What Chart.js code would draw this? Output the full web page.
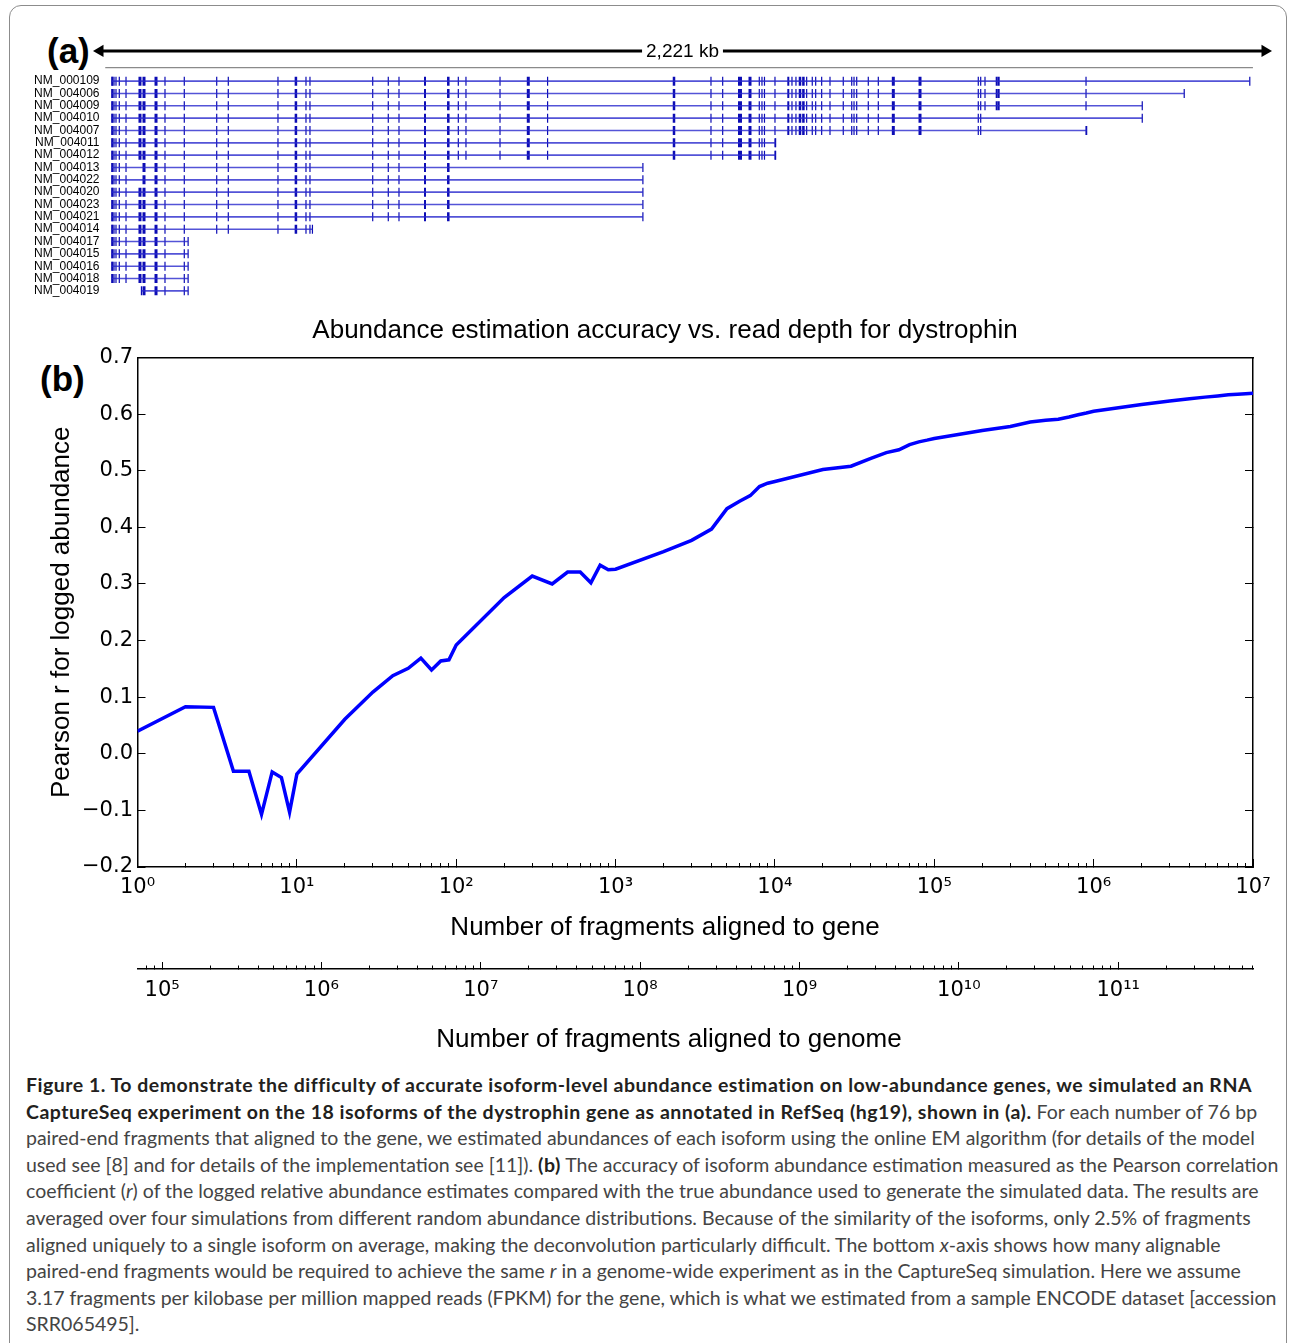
<!DOCTYPE html>
<html>
<head>
<meta charset="utf-8">
<title>Dystrophin isoforms and abundance estimation accuracy</title>
<script src="https://cdn.jsdelivr.net/npm/chart.js@4.4.1/dist/chart.umd.min.js"></script>
<style>
  html, body { margin: 0; padding: 0; overflow: hidden; background: #fff; }
  body { width: 1290px; height: 1343px; position: relative; }
  .frame { position: absolute; left: 9px; top: 5px; width: 1276px; height: 1400px;
           border: 1.3px solid #8c8c8c; border-radius: 12px; }
  .panel { position: absolute; font-family: "Liberation Sans", Arial, sans-serif; font-weight: bold; font-size: 35px; color: #000; line-height: 1; }
  canvas { position: absolute; left: 0; }
  #caption { position: absolute; left: 26px; top: 1072px; font-family: Lato, "Open Sans", sans-serif;
             font-size: 19.5px; line-height: 26.6px; color: #444; }
  #caption .ln { white-space: nowrap; }
  #caption b { color: #231f20; letter-spacing: 0.5px; }
</style>
</head>
<body>
<div class="frame"></div>
<div class="panel" style="left:47px; top:33px;">(a)</div>
<canvas id="isoChart" width="1290" height="275" style="top:30px;"></canvas>
<div class="panel" style="left:40px; top:361px;">(b)</div>
<canvas id="accChart" width="1330" height="660" style="top:300px;"></canvas>
<canvas id="genomeAxis" width="1338" height="110" style="top:950px;"></canvas>
<div id="caption">
  <div class="ln"><b>Figure 1. To demonstrate the difficulty of accurate isoform-level abundance estimation on low-abundance genes, we simulated an RNA</b></div>
  <div class="ln"><b>CaptureSeq experiment on the 18 isoforms of the dystrophin gene as annotated in RefSeq (hg19), shown in (a).</b> For each number of 76 bp</div>
  <div class="ln">paired-end fragments that aligned to the gene, we estimated abundances of each isoform using the online EM algorithm (for details of the model</div>
  <div class="ln">used see [8] and for details of the implementation see [11]). <b>(b)</b> The accuracy of isoform abundance estimation measured as the Pearson correlation</div>
  <div class="ln">coefficient (<i>r</i>) of the logged relative abundance estimates compared with the true abundance used to generate the simulated data. The results are</div>
  <div class="ln">averaged over four simulations from different random abundance distributions. Because of the similarity of the isoforms, only 2.5% of fragments</div>
  <div class="ln">aligned uniquely to a single isoform on average, making the deconvolution particularly difficult. The bottom <i>x</i>-axis shows how many alignable</div>
  <div class="ln">paired-end fragments would be required to achieve the same <i>r</i> in a genome-wide experiment as in the CaptureSeq simulation. Here we assume</div>
  <div class="ln">3.17 fragments per kilobase per million mapped reads (FPKM) for the gene, which is what we estimated from a sample ENCODE dataset [accession</div>
  <div class="ln">SRR065495].</div>
</div>
<script>
/* Panel (a): RefSeq isoforms of dystrophin, panel (b): accuracy vs read depth */

// ---- panel (a) data (positions in kb from the left end of the 2,221 kb window)
const scaleBarKb = 2221;
const rulerKb = [10, 2198];

const isoformNames = [
    'NM_000109', 'NM_004006', 'NM_004009', 'NM_004010', 'NM_004007', 'NM_004011',
    'NM_004012', 'NM_004013', 'NM_004022', 'NM_004020', 'NM_004023', 'NM_004021',
    'NM_004014', 'NM_004017', 'NM_004015', 'NM_004016', 'NM_004018', 'NM_004019'
];
const isoformStartKb = [23, 23, 23, 23, 23, 23, 23, 23, 23, 23, 23, 23, 23, 23, 23, 23, 23, 79];
const isoformEndKb = [2192, 2067, 1987, 1987, 1881, 1288, 1288, 1035, 1035, 1035, 1035, 1035,
    405, 168, 168, 168, 168, 168];
// exon ranges that a given isoform does not contain
const isoformMissingKb = [
    [], [], [], [[1685, 1890]], [[1685, 1720]], [], [],
    [[70, 79], [670, 1030]], [[70, 79], [670, 1030]],
    [[670, 1030]], [[670, 1030]], [[670, 1030]],
    [], [], [], [], [], []
];
const exonKb = [
    23.5, 26.7, 30.5, 36.8, 49.6, 76.2, 83.9, 106.8, 123.9, 160.7, 222.5, 244.6, 339.3,
    373.5, 392.7, 400.3, 519.9, 549.6, 570.0, 619.6, 664.0, 683.1, 697.7, 762.6, 816.5,
    853.3, 1094.3, 1164.8, 1187.1, 1220.1, 1239.2, 1256.9, 1262.0, 1266.8, 1286.8, 1312.2,
    1319.2, 1326.8, 1334.5, 1341.0, 1347.2, 1357.9, 1364.4, 1375.8, 1391.7, 1417.0, 1433.1,
    1437.5, 1442.6, 1464.7, 1483.8, 1512.4, 1563.3, 1674.4, 1679.0, 1687.2, 1709.5, 1713.3,
    1879.8
];
const exonSpanKb = [
    3.8, 1.9, 1.9, 1.9, 1.9, 5.7, 5.7, 5.7, 1.9, 1.9, 1.9, 1.9, 1.9,
    4.8, 1.9, 1.9, 1.9, 1.9, 1.9, 3.8, 4.8, 1.9, 1.9, 1.9, 5.7,
    1.9, 4.8, 1.9, 1.9, 7.6, 5.7, 1.9, 1.9, 1.9, 1.9, 3.8,
    1.9, 1.9, 4.8, 4.8, 1.9, 1.9, 1.9, 1.9, 1.9, 1.9, 1.9,
    1.9, 1.9, 1.9, 1.9, 5.7, 5.7, 1.9, 1.9, 1.9, 3.8, 3.8,
    1.9
];

// ---- panel (b) data
const geneFragments = [
    1, 2, 3, 4, 5, 6, 7, 8, 9, 10,
    20, 30, 40, 50, 60, 70, 80, 90, 100,
    200, 300, 400, 500, 600, 700, 800, 900, 1000,
    2000, 3000, 4000, 5000, 6000, 7000, 8000, 9000, 10000,
    2e4, 3e4, 4e4, 5e4, 6e4, 7e4, 8e4, 9e4, 1e5,
    2e5, 3e5, 4e5, 5e5, 6e5, 7e5, 8e5, 9e5, 1e6,
    2e6, 3e6, 4e6, 5e6, 6e6, 7e6, 8e6, 9e6, 1e7
];
const pearsonR = [
    0.040, 0.083, 0.082, -0.031, -0.031, -0.107, -0.032, -0.042, -0.103, -0.036,
    0.061, 0.109, 0.138, 0.151, 0.169, 0.148, 0.164, 0.166, 0.192,
    0.276, 0.314, 0.300, 0.321, 0.321, 0.302, 0.333, 0.325, 0.326,
    0.357, 0.377, 0.397, 0.433, 0.446, 0.456, 0.472, 0.478, 0.481,
    0.502, 0.508, 0.522, 0.532, 0.537, 0.546, 0.551, 0.554, 0.557,
    0.571, 0.578, 0.586, 0.589, 0.591, 0.595, 0.599, 0.602, 0.605,
    0.617, 0.623, 0.627, 0.630, 0.632, 0.634, 0.635, 0.636, 0.637
];
const geneAxisRange = [1, 1e7];
const yTicks = [-0.2, -0.1, 0.0, 0.1, 0.2, 0.3, 0.4, 0.5, 0.6, 0.7];
// genome-wide fragments needed per fragment aligned to the gene
const genomePerGeneFragment = 70100;

Chart.defaults.font.family = '"DejaVu Sans", sans-serif';
Chart.defaults.color = '#000';

const HELV = '"Liberation Sans", Arial, sans-serif';
const SUP = {'0': '⁰', '1': '¹', '2': '²', '3': '³', '4': '⁴', '5': '⁵', '6': '⁶', '7': '⁷', '8': '⁸', '9': '⁹'};
const CLEAR = 'rgba(0,0,0,0)';

function isDecade(v) {
    const e = Math.log10(v);
    return Math.abs(e - Math.round(e)) < 1e-9;
}
function isWholeMantissa(v) {
    const m = v / Math.pow(10, Math.floor(Math.log10(v) + 1e-9));
    return Math.abs(m - Math.round(m)) < 1e-6;
}
function decadeLabel(v) {
    if (!isDecade(v)) return '';
    return '10' + String(Math.round(Math.log10(v))).split('').map(d => SUP[d]).join('');
}
function rLabel(v) {
    return (v < -1e-9 ? '\u2212' : '') + Math.abs(v).toFixed(1);
}

// ---------------- panel (a)
const scaleBarRow = -2.45;
const rulerRow = -1.1;

const exonPoints = [];
isoformNames.forEach((name, row) => {
    const s = isoformStartKb[row], e = isoformEndKb[row];
    const missing = isoformMissingKb[row];
    exonPoints.push({x: s, y: row, span: 1.9});
    exonKb.forEach((kb, j) => {
        if (kb <= s || kb >= e) return;
        if (missing.some(r => kb >= r[0] && kb <= r[1])) return;
        exonPoints.push({x: kb, y: row, span: exonSpanKb[j]});
    });
    exonPoints.push({x: e, y: row, span: 1.9});
});

const intronSets = isoformNames.map((name, row) => ({
    label: name,
    data: [{x: isoformStartKb[row], y: row}, {x: isoformEndKb[row], y: row}],
    showLine: true,
    borderColor: 'rgba(40,40,205,0.8)',
    borderWidth: 1.6,
    pointRadius: 0
}));

const scaleBarLabel = {
    id: 'scaleBarLabel',
    afterDatasetsDraw(chart) {
        const {ctx, scales: {x, y}} = chart;
        const text = scaleBarKb.toLocaleString('en-US') + ' kb';
        const cx = x.getPixelForValue(scaleBarKb / 2);
        const cy = y.getPixelForValue(scaleBarRow);
        ctx.save();
        ctx.font = '19px ' + HELV;
        const w = ctx.measureText(text).width;
        ctx.fillStyle = '#fff';
        ctx.fillRect(cx - w / 2 - 4, cy - 10, w + 8, 20);
        ctx.fillStyle = '#000';
        ctx.textAlign = 'center';
        ctx.textBaseline = 'middle';
        ctx.fillText(text, cx, cy + 1);
        ctx.restore();
    }
};

const isoChart = new Chart(document.getElementById('isoChart'), {
    type: 'scatter',
    data: {
        datasets: [
            {
                label: 'window',
                data: [{x: 0, y: scaleBarRow}, {x: scaleBarKb, y: scaleBarRow}],
                showLine: true,
                borderColor: '#000',
                borderWidth: 3,
                pointStyle: 'triangle',
                pointRadius: 7,
                pointRotation: [-90, 90],
                pointBackgroundColor: '#000',
                pointBorderWidth: 0,
                clip: false
            },
            {
                label: 'ruler',
                data: [{x: rulerKb[0], y: rulerRow}, {x: rulerKb[1], y: rulerRow}],
                showLine: true,
                borderColor: '#8a8a8a',
                borderWidth: 1.3,
                pointRadius: 0
            },
            ...intronSets,
            {
                label: 'exons',
                data: exonPoints,
                pointStyle: 'line',
                pointRotation: 90,
                pointRadius: 4.5,
                pointBorderColor: '#0c0cb4',
                pointBackgroundColor: '#0c0cb4',
                pointBorderWidth: (c) => {
                    const x = c.chart.scales.x;
                    const w = x.getPixelForValue(c.raw.span) - x.getPixelForValue(0);
                    return Math.max(1.2, w);
                }
            }
        ]
    },
    options: {
        responsive: false,
        animation: false,
        events: [],
        layout: {autoPadding: false, padding: {left: 0, right: 25, top: 0, bottom: 0}},
        plugins: {legend: {display: false}, tooltip: {enabled: false}},
        scales: {
            x: {type: 'linear', display: false, min: 0, max: scaleBarKb},
            y: {
                type: 'linear',
                reverse: true,
                min: -4.1,
                max: 18.1,
                afterFit: (s) => { s.width = 100; },
                afterBuildTicks: (s) => { s.ticks = isoformNames.map((n, i) => ({value: i})); },
                border: {display: false},
                grid: {display: false, drawTicks: false},
                ticks: {
                    autoSkip: false,
                    padding: 0.5,
                    font: {family: HELV, size: 12, lineHeight: 0.01},
                    color: '#000',
                    callback: (v) => isoformNames[v] || ''
                }
            }
        }
    },
    plugins: [scaleBarLabel]
});

// ---------------- panel (b)
const titleFont = {family: HELV, size: 26, weight: 'normal', lineHeight: 1.2};

const accChart = new Chart(document.getElementById('accChart'), {
    type: 'scatter',
    data: {
        datasets: [{
            label: 'Pearson r',
            data: geneFragments.map((n, i) => ({x: n, y: pearsonR[i]})),
            showLine: true,
            borderColor: '#0000ff',
            borderWidth: 3.5,
            pointRadius: 0,
            tension: 0,
            xAxisID: 'x',
            yAxisID: 'y'
        }]
    },
    options: {
        responsive: false,
        animation: false,
        events: [],
        layout: {autoPadding: false, padding: 0},
        plugins: {
            legend: {display: false},
            tooltip: {enabled: false},
            title: {
                display: true,
                text: 'Abundance estimation accuracy vs. read depth for dystrophin',
                color: '#000',
                font: titleFont,
                padding: {top: 14.8, bottom: 11.5}
            },
            subtitle: {
                display: true,
                position: 'bottom',
                text: 'Number of fragments aligned to gene',
                color: '#000',
                font: titleFont,
                padding: {top: 5.4, bottom: 16.4}
            }
        },
        scales: {
            x: {
                type: 'logarithmic',
                position: 'bottom',
                min: geneAxisRange[0],
                max: geneAxisRange[1],
                afterFit: (s) => { s.height = 40; },
                border: {display: true, color: '#000', width: 1.5},
                grid: {
                    drawOnChartArea: false,
                    tickLength: -4,
                    tickWidth: 1,
                    tickColor: (c) => isWholeMantissa(c.tick.value) ? '#000' : CLEAR
                },
                ticks: {
                    autoSkip: false,
                    maxRotation: 0,
                    minRotation: 0,
                    padding: 12.4,
                    font: {size: 21},
                    callback: (v) => decadeLabel(v)
                }
            },
            xMajor: {
                type: 'logarithmic',
                position: 'bottom',
                weight: -1,
                min: geneAxisRange[0],
                max: geneAxisRange[1],
                afterFit: (s) => { s.height = 0; },
                border: {display: false},
                grid: {
                    drawOnChartArea: false,
                    tickLength: -8,
                    tickWidth: 1,
                    tickColor: (c) => isDecade(c.tick.value) ? '#000' : CLEAR
                },
                ticks: {display: false, autoSkip: false}
            },
            xTop: {
                type: 'logarithmic',
                position: 'top',
                min: geneAxisRange[0],
                max: geneAxisRange[1],
                afterFit: (s) => { s.height = 0; },
                border: {display: true, color: '#000', width: 1.5},
                grid: {drawOnChartArea: false, drawTicks: false},
                ticks: {display: false}
            },
            y: {
                type: 'linear',
                position: 'left',
                min: yTicks[0],
                max: yTicks[yTicks.length - 1],
                afterFit: (s) => { s.width = 137.5; },
                afterBuildTicks: (s) => { s.ticks = yTicks.map(v => ({value: v})); },
                border: {display: true, color: '#000', width: 1.5},
                grid: {drawOnChartArea: false, tickLength: -8, tickColor: '#000', tickWidth: 1},
                ticks: {padding: 12.5, font: {size: 21}, callback: (v) => rLabel(v)},
                title: {
                    display: true,
                    text: 'Pearson r for logged abundance',
                    color: '#000',
                    font: titleFont,
                    padding: {top: 46.4, bottom: 0}
                }
            },
            yRight: {
                type: 'linear',
                position: 'right',
                min: yTicks[0],
                max: yTicks[yTicks.length - 1],
                afterFit: (s) => { s.width = 77; },
                afterBuildTicks: (s) => { s.ticks = yTicks.map(v => ({value: v})); },
                border: {display: true, color: '#000', width: 1.5},
                grid: {drawOnChartArea: false, tickLength: -8, tickColor: '#000', tickWidth: 1},
                ticks: {display: false}
            }
        }
    }
});

// ---------------- second x-axis: equivalent genome-wide fragment counts
const genomeAxis = new Chart(document.getElementById('genomeAxis'), {
    type: 'scatter',
    data: {datasets: []},
    options: {
        responsive: false,
        animation: false,
        events: [],
        layout: {autoPadding: false, padding: {top: 12, left: 0, right: 0, bottom: 0}},
        plugins: {
            legend: {display: false},
            tooltip: {enabled: false},
            title: {
                display: true,
                position: 'bottom',
                text: 'Number of fragments aligned to genome',
                color: '#000',
                font: titleFont,
                padding: {top: 15.4, bottom: 4.4}
            }
        },
        scales: {
            x: {
                type: 'logarithmic',
                position: 'bottom',
                min: geneAxisRange[0] * genomePerGeneFragment,
                max: geneAxisRange[1] * genomePerGeneFragment,
                afterFit: (s) => { s.height = 40; },
                border: {display: true, color: '#000', width: 1.5},
                grid: {
                    drawOnChartArea: true,
                    color: (c) => c.tick && isDecade(c.tick.value) ? '#000' : CLEAR,
                    lineWidth: 1,
                    tickLength: -3.5,
                    tickWidth: 1,
                    tickColor: (c) => isWholeMantissa(c.tick.value) ? '#000' : CLEAR
                },
                ticks: {
                    autoSkip: false,
                    maxRotation: 0,
                    minRotation: 0,
                    padding: 12,
                    font: {size: 21},
                    callback: (v) => decadeLabel(v)
                }
            },
            y: {
                position: 'left',
                min: 0,
                max: 1,
                afterFit: (s) => { s.width = 137.5; },
                border: {display: false},
                grid: {display: false, drawTicks: false},
                ticks: {display: false}
            },
            y2: {
                position: 'right',
                min: 0,
                max: 1,
                afterFit: (s) => { s.width = 85; },
                border: {display: false},
                grid: {display: false, drawTicks: false},
                ticks: {display: false}
            }
        }
    }
});
</script>
</body>
</html>
